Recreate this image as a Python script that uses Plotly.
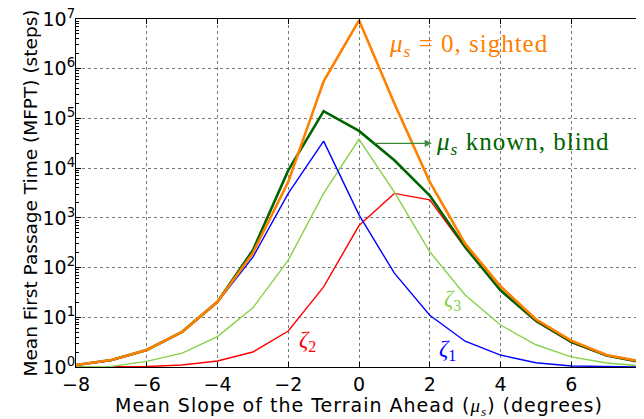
import plotly.graph_objects as go

slope = [-8, -7, -6, -5, -4, -3, -2, -1, 0, 1, 2, 3, 4, 5, 6, 7, 8]

sighted = [1.1, 1.38, 2.2, 5.1, 20.5, 195, 5300, 5.6e5, 9.4e6, 2.0e5, 5300, 303, 42, 9.1, 3.4, 1.74, 1.28]
blind = [1.1, 1.38, 2.2, 5.1, 20.5, 224, 9000, 1.4e5, 5.6e4, 1.44e4, 2800, 260, 35, 8.5, 3.2, 1.7, 1.25]
zeta1 = [1.08, 1.35, 2.15, 5.0, 20, 162, 3100, 3.5e4, 1150, 77, 11, 3.3, 1.74, 1.22, 1.05, 1.01, 1.0]
zeta2 = [1.0, 1.0, 1.02, 1.1, 1.32, 2.0, 5.3, 41, 700, 3100, 2300, 250, 34, 8.3, 3.1, 1.68, 1.24]
zeta3 = [1.0, 1.03, 1.3, 1.9, 4.1, 15.5, 141, 3100, 3.8e4, 3300, 208, 28, 7.0, 2.8, 1.6, 1.2, 1.05]

yticks = [1, 10, 100, 1e3, 1e4, 1e5, 1e6, 1e7]
yticktext = ["10<sup>%d</sup>" % i for i in range(8)]
xticks = [-8, -6, -4, -2, 0, 2, 4, 6, 8]
xticktext = ["\u22128", "\u22126", "\u22124", "\u22122", "0", "2", "4", "6", "8"]

fig = go.Figure()
fig.add_trace(go.Scatter(x=slope, y=zeta2, mode="lines", line=dict(color="#FF0000", width=1.4)))
fig.add_trace(go.Scatter(x=slope, y=zeta3, mode="lines", line=dict(color="#86D24A", width=1.4)))
fig.add_trace(go.Scatter(x=slope, y=zeta1, mode="lines", line=dict(color="#0000FF", width=1.4)))
fig.add_trace(go.Scatter(x=slope, y=blind, mode="lines", line=dict(color="#006400", width=2.6)))
fig.add_trace(go.Scatter(x=slope, y=sighted, mode="lines", line=dict(color="#FF8000", width=2.6)))

serif = "Liberation Serif, Times New Roman, serif"
sans = "DejaVu Sans, Liberation Sans, Arial, sans-serif"
sp = "<span style=\"letter-spacing:1px\">%s</span>"

ann = [
    dict(x=0.79, y=6.47, xanchor="left", text=sp % "<i>\u03bc<sub>s</sub></i> = 0, sighted", font=dict(family=serif, size=25, color="#FF8000")),
    dict(x=2.12, y=4.5, xanchor="left", text=sp % "<i>\u03bc<sub>s</sub></i> known, blind", font=dict(family=serif, size=25, color="#006400")),
    dict(x=-1.47, y=0.52, xanchor="center", text="<i>\u03b6</i><sub>2</sub>", font=dict(family=serif, size=23, color="#FF0000")),
    dict(x=2.63, y=1.35, xanchor="center", text="<i>\u03b6</i><sub>3</sub>", font=dict(family=serif, size=23, color="#86D24A")),
    dict(x=2.49, y=0.34, xanchor="center", text="<i>\u03b6</i><sub>1</sub>", font=dict(family=serif, size=23, color="#0000FF")),
]
for a in ann:
    fig.add_annotation(xref="x", yref="y", yanchor="middle", showarrow=False, **a)

fig.add_annotation(x=2.06, y=4.5, ax=0.4, ay=4.5, xref="x", yref="y", axref="x", ayref="y",
                   text="", showarrow=True, arrowhead=2, arrowsize=1.2, arrowwidth=1.2,
                   arrowcolor="#3C8A3C")

# the page body adds an 8px offset; the figure is sized so the plot area lands in place
fig.update_layout(
    width=636, height=411,
    margin=dict(l=68, r=2, t=11, b=52, autoexpand=False),
    paper_bgcolor="white", plot_bgcolor="white",
    showlegend=False,
    font=dict(family=sans, color="black"),
)
fig.update_xaxes(
    range=[-8, 8], tickvals=xticks, ticktext=xticktext,
    tickfont=dict(size=19, family=sans), ticklabeloverflow="allow",
    ticks="inside", ticklen=5, tickcolor="black",
    showline=True, linecolor="black", linewidth=1, mirror="ticks",
    showgrid=True, gridcolor="#7a7a7a", griddash="dot", gridwidth=1,
    zeroline=False, automargin=False,
    title=dict(text="<span style=\"letter-spacing:1px\">Mean Slope of the Terrain Ahead (<span style=\"font-family:'Liberation Serif'\"><i>\u03bc<sub>s</sub></i></span>) (degrees)</span>",
               font=dict(size=19, family=sans), standoff=4),
)
fig.update_yaxes(
    type="log", range=[0, 7], tickvals=yticks, ticktext=yticktext,
    tickfont=dict(size=19, family=sans), ticklabeloverflow="allow", ticklabelstandoff=-4,
    ticks="inside", ticklen=5, tickcolor="black",
    minor=dict(ticks="inside", ticklen=3, tickcolor="black", showgrid=False, dtick="D1"),
    showline=True, linecolor="black", linewidth=1, mirror="ticks",
    showgrid=True, gridcolor="#7a7a7a", griddash="dot", gridwidth=1,
    zeroline=False, automargin=False,
    title=dict(text="Mean First Passage Time (MFPT) (steps)", font=dict(size=18.5, family=sans), standoff=0),
)

fig.write_html("out.html")
